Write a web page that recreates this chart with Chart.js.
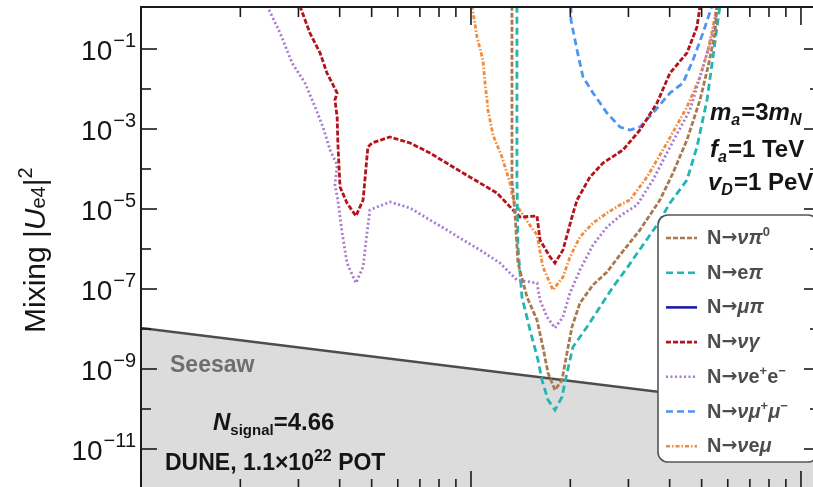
<!DOCTYPE html>
<html><head><meta charset="utf-8">
<script src="https://cdn.jsdelivr.net/npm/chart.js@4/dist/chart.umd.min.js"></script>
<style>
html,body{margin:0;padding:0;overflow:hidden;background:#fff;width:813px;height:487px;}
#wrap{position:relative;width:832px;height:500px;}
</style></head><body>
<div id="wrap"><canvas id="c" width="832" height="500"></canvas></div>
<script>
// ---- data (HNL mass in GeV, mixing |U_e4|^2) ----
const massNuPi0 = [0.1331,0.1331,0.1359,0.1388,0.1478,0.1585,0.1652,0.1712,0.1797,0.1887,0.1954,0.2023,0.2139,0.2343,0.2583,0.2828,0.3251,0.3738,0.4093,0.4513,0.4943,0.5227,0.5488,0.5566];
const mixNuPi0  = [1.2,5.31e-5,7.94e-6,4.47e-7,6.31e-8,1.68e-8,3.55e-9,7.94e-10,2.99e-10,5.31e-10,2.51e-9,1.12e-8,4.47e-8,1.26e-7,2.66e-7,7.08e-7,2.99e-6,1.68e-5,7.94e-5,5.31e-4,5.31e-3,0.0355,0.251,1.2];

const massEPi = [0.1378,0.1378,0.1388,0.1427,0.1510,0.1596,0.1641,0.1712,0.1797,0.1887,0.1954,0.2037,0.2246,0.2459,0.2693,0.2970,0.3320,0.3662,0.4009,0.4513,0.4840,0.5191,0.5412,0.5605,0.5682];
const mixEPi  = [1.2,5.31e-5,1.12e-6,6.31e-8,9.44e-9,1.68e-9,5.31e-10,1.68e-10,9.44e-11,2.00e-10,7.94e-10,3.55e-9,1.12e-8,3.55e-8,1.12e-7,3.35e-7,1.26e-6,3.98e-6,1.41e-5,5.31e-5,3.55e-4,5.31e-3,0.0631,0.531,1.2];

const massMuPi = [];
const mixMuPi  = [];

const massNuGamma = [0.0303,0.0325,0.0349,0.0366,0.0393,0.0387,0.0393,0.0395,0.0401,0.0421,0.0448,0.0471,0.0487,0.0501,0.0568,0.0654,0.0751,0.0946,0.1199,0.1341,0.1408,0.1585,0.1619,0.1736,0.1797,0.1900,0.2023,0.2096,0.2294,0.2512,0.2888,0.3251,0.3662,0.4009,0.4513,0.4840,0.4943];
const mixNuGamma  = [1.2,0.251,0.0794,0.0251,7.94e-3,5.31e-3,2.00e-3,4.47e-4,3.55e-5,1.41e-5,6.68e-6,1.68e-5,3.55e-4,4.47e-4,6.31e-4,4.47e-4,2.51e-4,7.94e-5,2.51e-5,9.44e-6,6.31e-6,6.68e-6,1.68e-6,6.31e-7,4.47e-7,9.44e-7,6.31e-6,1.68e-5,6.31e-5,1.41e-4,2.99e-4,9.44e-4,4.47e-3,0.0251,0.0794,0.355,1.2];

const massNuEE = [0.0241,0.0264,0.0287,0.0314,0.0337,0.0356,0.0374,0.0393,0.0387,0.0395,0.0407,0.0421,0.0448,0.0471,0.0484,0.0494,0.0519,0.0568,0.0654,0.0751,0.0846,0.0926,0.1065,0.1224,0.1378,0.1585,0.1619,0.1700,0.1797,0.1900,0.1995,0.2139,0.2343,0.2583,0.2828,0.3184,0.3559,0.4009,0.4609,0.5047,0.5412,0.5580];
const mixNuEE  = [1.2,0.251,0.0447,0.0141,3.55e-3,1.12e-3,2.99e-4,1.26e-4,3.98e-5,1.68e-5,2.51e-6,4.47e-7,1.41e-7,3.55e-7,2.51e-6,9.44e-6,1.12e-5,1.50e-5,1.06e-5,5.31e-6,2.99e-6,1.88e-6,9.44e-7,4.47e-7,1.68e-7,1.41e-7,5.31e-8,2.00e-8,1.06e-8,2.00e-8,7.94e-8,2.99e-7,1.26e-6,3.55e-6,6.68e-6,1.26e-5,5.31e-5,3.55e-4,2.99e-3,0.0355,0.251,1.2];

const massNuMuMu = [0.2009,0.2009,0.2096,0.2185,0.2343,0.2583,0.2828,0.3033,0.3251,0.3559,0.4009,0.4389,0.4708,0.5047,0.5374];
const mixNuMuMu  = [1.2,0.531,0.0944,0.0200,7.94e-3,2.51e-3,1.12e-3,9.44e-4,1.12e-3,2.51e-3,7.94e-3,0.0141,0.0531,0.251,1.2];

const massNuEMu = [0.1007,0.1043,0.1087,0.1103,0.1118,0.1126,0.1166,0.1241,0.1313,0.1341,0.1478,0.1585,0.1652,0.1772,0.1900,0.1995,0.2139,0.2343,0.2583,0.2828,0.3033,0.3415,0.3925,0.4513,0.4943,0.5227,0.5412,0.5566];
const mixNuEMu  = [1.2,0.200,0.0531,0.0141,5.31e-3,2.99e-3,7.08e-4,2.00e-4,4.47e-5,1.68e-5,5.01e-6,2.24e-6,3.55e-7,9.44e-8,2.00e-7,6.31e-7,2.00e-6,4.47e-6,7.94e-6,1.26e-5,1.68e-5,6.31e-5,4.47e-4,3.55e-3,0.0200,0.0944,0.355,1.2];

const massSeesaw = [0.01, 1.142];
const mixSeesaw  = [1.06e-8, 8.5e-11];

const seriesLabels = ['N→νπ⁰','N→eπ','N→μπ','N→νγ','N→νe⁺e⁻','N→νμ⁺μ⁻','N→νeμ'];
const yLabelExps = [-1,-3,-5,-7,-9,-11];
const yMinorExps = [-2,-4,-6,-8,-10,-12];
const xMajorTicks = [0.01,0.1,1];
const xMinorMult = [2,3,4,5,6,7,8,9];

// ---- helpers ----
const FF = '"Liberation Sans", Arial, Helvetica, sans-serif';
function fnt(sz,bold,italic,fam){return (italic?'italic ':'')+(bold?'bold ':'')+sz+'px '+(fam||FF);}
function pts(xs,ys){return xs.map((v,i)=>({x:v,y:ys[i]}));}
function rich(ctx,x,y,segs){let cx=x;for(const s of segs){ctx.font=s.f;ctx.fillText(s.t,cx,y+(s.dy||0));cx+=ctx.measureText(s.t).width+(s.sp||0);}return cx-x;}
function labelSegs(str,sz){
  const segs=[];const sup={'⁰':'0','⁺':'+','⁻':'−'};
  for(const ch of str){
    if(sup[ch]!==undefined) segs.push({t:sup[ch],f:fnt(13,true),dy:-8});
    else if(ch==='→') segs.push({t:ch,f:fnt(sz-1,true,false,'"DejaVu Sans", sans-serif'),dy:-1});
    else if('νπγμ'.includes(ch)) segs.push({t:ch,f:fnt(sz,true,true)});
    else segs.push({t:ch,f:fnt(sz,true)});
  }
  return segs;
}

const styles = [
  {c:'#a97a50',d:[5,2]},
  {c:'#22b5b5',d:[7,4]},
  {c:'#1c1ca8',d:[]},
  {c:'#b5121b',d:[5,2]},
  {c:'#a779cf',d:[2,2.5]},
  {c:'#4f94f0',d:[7,4]},
  {c:'#f28c3c',d:[4,2,1.5,2]}
];
const dataPairs = [[massNuPi0,mixNuPi0],[massEPi,mixEPi],[massMuPi,mixMuPi],[massNuGamma,mixNuGamma],[massNuEE,mixNuEE],[massNuMuMu,mixNuMuMu],[massNuEMu,mixNuEMu]];

const datasets = dataPairs.map((p,i)=>({
  label:seriesLabels[i], data:pts(p[0],p[1]), showLine:true, pointRadius:0,
  borderColor:styles[i].c, backgroundColor:styles[i].c, borderWidth:2.8, borderDash:styles[i].d,
  fill:false, tension:0, order:1
}));
datasets.push({label:'Seesaw', isSeesaw:true, data:pts(massSeesaw,mixSeesaw), showLine:true, pointRadius:0,
  borderColor:'#4d4d4d', borderWidth:2.5, backgroundColor:'#dcdcdc', fill:'start', order:10});

const overlay = {
  id:'overlay',
  afterDatasetsDraw(chart){
    const ctx=chart.ctx, a=chart.chartArea, xs=chart.scales.x, ys=chart.scales.y;
    ctx.save();
    const ink='#151515';
    ctx.textAlign='left'; ctx.textBaseline='alphabetic';
    ctx.fillStyle='#6e6e6e'; ctx.font=fnt(23,true); ctx.fillText('Seesaw',170,372);
    ctx.fillStyle=ink;
    rich(ctx,213,430,[{t:'N',f:fnt(24,true,true)},{t:'signal',f:fnt(15,true),dy:5},{t:'=4.66',f:fnt(24,true)}]);
    rich(ctx,165,470,[{t:'DUNE, 1.1×10',f:fnt(23,true)},{t:'22',f:fnt(16,true),dy:-9},{t:' POT',f:fnt(23,true)}]);
    rich(ctx,710,120,[{t:'m',f:fnt(24,true,true)},{t:'a',f:fnt(16,true,true),dy:5,sp:1},{t:'=3',f:fnt(24,true)},{t:'m',f:fnt(24,true,true)},{t:'N',f:fnt(16,true,true),dy:5}]);
    rich(ctx,710,157,[{t:'f',f:fnt(24,true,true)},{t:'a',f:fnt(16,true,true),dy:5,sp:1},{t:'=1 TeV',f:fnt(24,true)}]);
    rich(ctx,708,190,[{t:'v',f:fnt(24,true,true)},{t:'D',f:fnt(16,true,true),dy:5,sp:1},{t:'=1 PeV',f:fnt(24,true)}]);

    // legend
    const lx=658, ly=215, lw=160, lh=247, r=10;
    ctx.beginPath();
    ctx.moveTo(lx+r,ly);ctx.lineTo(lx+lw-r,ly);ctx.arcTo(lx+lw,ly,lx+lw,ly+r,r);
    ctx.lineTo(lx+lw,ly+lh-r);ctx.arcTo(lx+lw,ly+lh,lx+lw-r,ly+lh,r);
    ctx.lineTo(lx+r,ly+lh);ctx.arcTo(lx,ly+lh,lx,ly+lh-r,r);
    ctx.lineTo(lx,ly+r);ctx.arcTo(lx,ly,lx+r,ly,r);ctx.closePath();
    ctx.fillStyle='#fff';ctx.fill();ctx.strokeStyle='#555';ctx.lineWidth=1.6;ctx.setLineDash([]);ctx.stroke();
    let row=0;
    chart.data.datasets.forEach(ds=>{
      if(ds.isSeesaw) return;
      const cy=237+row*34.7;
      ctx.strokeStyle=ds.borderColor;ctx.lineWidth=2.6;ctx.setLineDash(ds.borderDash||[]);
      ctx.beginPath();ctx.moveTo(666,cy+1);ctx.lineTo(697,cy+1);ctx.stroke();
      ctx.setLineDash([]);
      ctx.fillStyle='#4d4d4d';
      rich(ctx,707,cy+7,labelSegs(ds.label,20));
      row++;
    });

    // frame
    ctx.setLineDash([]);ctx.strokeStyle='#1a1a1a';ctx.lineWidth=2;
    ctx.strokeRect(a.left,a.top,a.right-a.left,a.bottom-a.top);
    ctx.lineWidth=1.6;
    const ln=(x1,y1,x2,y2)=>{ctx.beginPath();ctx.moveTo(x1,y1);ctx.lineTo(x2,y2);ctx.stroke();};
    xMajorTicks.forEach(t=>{
      const tickSet=[t].concat(xMinorMult.map(m=>m*t));
      tickSet.forEach((v,k)=>{
        if(v<xs.min||v>xs.max) return;
        const px=xs.getPixelForValue(v); const L=k===0?18:10;
        ln(px,a.top,px,a.top+L); ln(px,a.bottom,px,a.bottom-L);
      });
    });
    yLabelExps.concat(yMinorExps).forEach(e=>{
      const py=ys.getPixelForValue(Math.pow(10,e));
      if(py<a.top-0.5||py>a.bottom+0.5) return;
      const L=yLabelExps.includes(e)?16:10;
      ln(a.left,py,a.left+L,py); ln(a.right,py,a.right-L,py);
    });
    ctx.fillStyle=ink;ctx.textAlign='left';ctx.textBaseline='alphabetic';
    yLabelExps.forEach(e=>{
      const py=ys.getPixelForValue(Math.pow(10,e));
      const ex='−'+Math.abs(e);
      ctx.font=fnt(20);const ew=ctx.measureText(ex).width;
      ctx.font=fnt(28);const bw=ctx.measureText('10').width;
      const right=136;
      ctx.fillText('10',right-ew-bw-1,py+11);
      ctx.font=fnt(20);ctx.fillText(ex,right-ew,py-2);
    });
    ctx.save();
    ctx.translate(45,333);ctx.rotate(-Math.PI/2);
    rich(ctx,0,0,[{t:'Mixing |',f:fnt(30)},{t:'U',f:fnt(30,false,true)},{t:'e4',f:fnt(20)},{t:'|',f:fnt(30)},{t:'2',f:fnt(20),dy:-13}]);
    ctx.restore();
    ctx.restore();
  }
};

new Chart(document.getElementById('c'),{
  type:'scatter',
  data:{datasets},
  options:{
    responsive:false, animation:false, devicePixelRatio:1,
    layout:{padding:{left:0,right:12,top:7,bottom:11}},
    plugins:{legend:{display:false},tooltip:{enabled:false}},
    scales:{
      x:{type:'logarithmic',min:0.01,max:1.142,ticks:{display:false},grid:{display:false},border:{display:false},
         afterFit(s){s.height=0;}},
      y:{type:'logarithmic',min:1e-12,max:1.122,ticks:{display:false},grid:{display:false},border:{display:false},
         afterFit(s){s.width=141;}}
    }
  },
  plugins:[overlay]
});
</script>
</body></html>
